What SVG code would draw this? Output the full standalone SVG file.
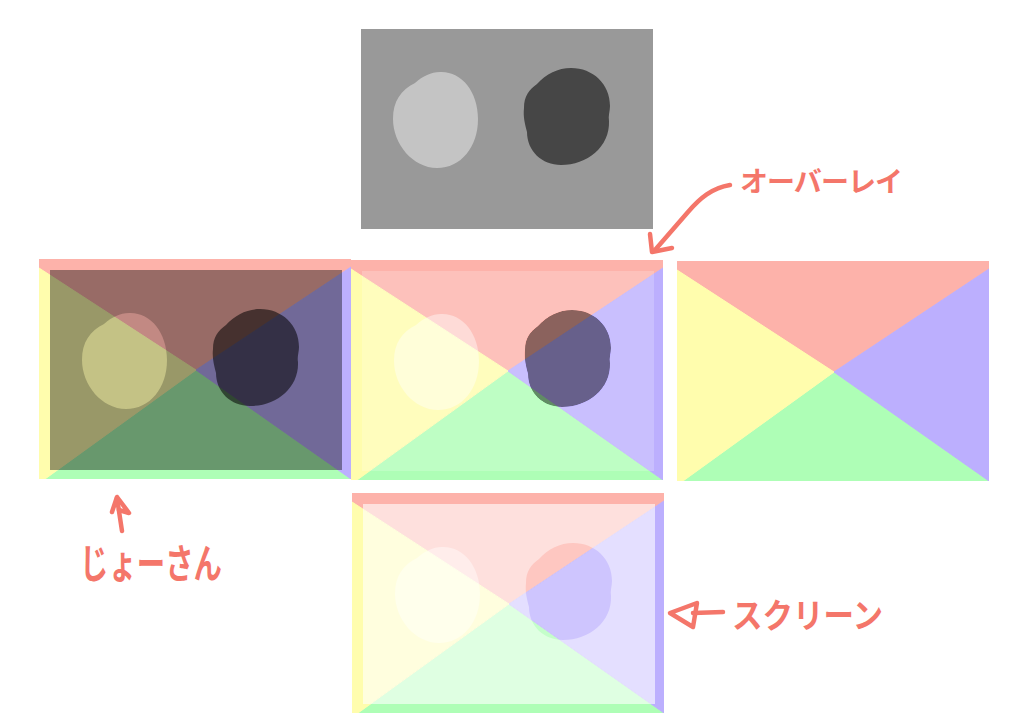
<svg xmlns="http://www.w3.org/2000/svg" width="1024" height="728" viewBox="0 0 1024 728">
<style>
.bg{fill:#999999}
.light{fill:#c4c4c4}
.dark{fill:#464646}
.r{fill:#fdb2aa;stroke:#fdb2aa}.y{fill:#fffdad;stroke:#fffdad}.b{fill:#bcaffe;stroke:#bcaffe}.g{fill:#aefeb6;stroke:#aefeb6}
#quad polygon{stroke-width:1;stroke-linejoin:round}
.iso{isolation:isolate}
.multiply{mix-blend-mode:multiply}
.overlay{mix-blend-mode:overlay}
.screen{mix-blend-mode:screen}
.ink{fill:none;stroke:#f4766a;stroke-width:4.5;stroke-linecap:round;stroke-linejoin:round}
.label{fill:#f4766a;font-family:"Noto Sans CJK JP","Noto Sans CJK SC",sans-serif;font-weight:700}
</style>
<defs>
<clipPath id="qclip"><rect width="312" height="220"/></clipPath>
<g id="photo">
<rect class="bg" width="292" height="200"/>
<path class="light" d="M79,43 C100,42 117,62 117,90 C117,118 100,139 76,139 C52,139 32,115 32,90 C32,72 40,61 54,54 C62,47 70,43 79,43 Z"/>
<path class="dark" d="M210,39 C232,39 249,55 249,77 C249,82 247,87 248,92 C249,118 226,136 200,136 C181,136 166,122 166,103 C164,95 162,88 163,79 C163,67 168,61 176,55 C185,45 197,39 210,39 Z"/>
</g>
<g id="quad" clip-path="url(#qclip)">
<polygon class="g" points="6,220 157,111 312,220"/>
<polygon class="r" points="0,0 312,0 312,8 157,111 0,9"/>
<polygon class="y" points="0,9 157,111 6,220 0,220"/>
<polygon class="b" points="312,8 157,111 312,220"/>
</g>
</defs>

<g id="source" transform="translate(361,29)">
<use href="#photo"/>
</g>

<g id="multiply-panel" class="iso" transform="translate(39,259)">
<use href="#photo" x="11" y="11"/>
<g class="multiply"><use href="#quad"/></g>
</g>

<g id="overlay-panel" class="iso" transform="translate(351,260)">
<use href="#photo" x="11" y="11"/>
<g class="overlay"><use href="#quad"/></g>
</g>

<g id="colors" transform="translate(677,261)">
<use href="#quad"/>
</g>

<g id="screen-panel" class="iso" transform="translate(352,493)">
<use href="#photo" x="11" y="11"/>
<g class="screen"><use href="#quad"/></g>
</g>

<g id="connectors">
<path class="ink" d="M730,185 C712,188 700,198 688,212 L655,250"/>
<path class="ink" d="M650,234 L652,252 L672,248"/>
<path class="ink" d="M122,531 L117,498"/>
<path class="ink" d="M112,512 L117,497 L129,513 L119,510"/>
<path class="ink" d="M723,612 L693,613"/>
<path class="ink" d="M697,603 L670,613 L693,627 Z"/>
</g>

<g id="label-overlay">
<text class="label" x="740" y="192" font-size="28" textLength="163" lengthAdjust="spacing">オーバーレイ</text>
</g>
<g id="label-multiply">
<text class="label" x="80" y="578" font-size="40" textLength="142" lengthAdjust="spacingAndGlyphs">じょーさん</text>
</g>
<g id="label-screen">
<text class="label" x="732" y="628" font-size="34" textLength="151" lengthAdjust="spacingAndGlyphs">スクリーン</text>
</g>
</svg>
